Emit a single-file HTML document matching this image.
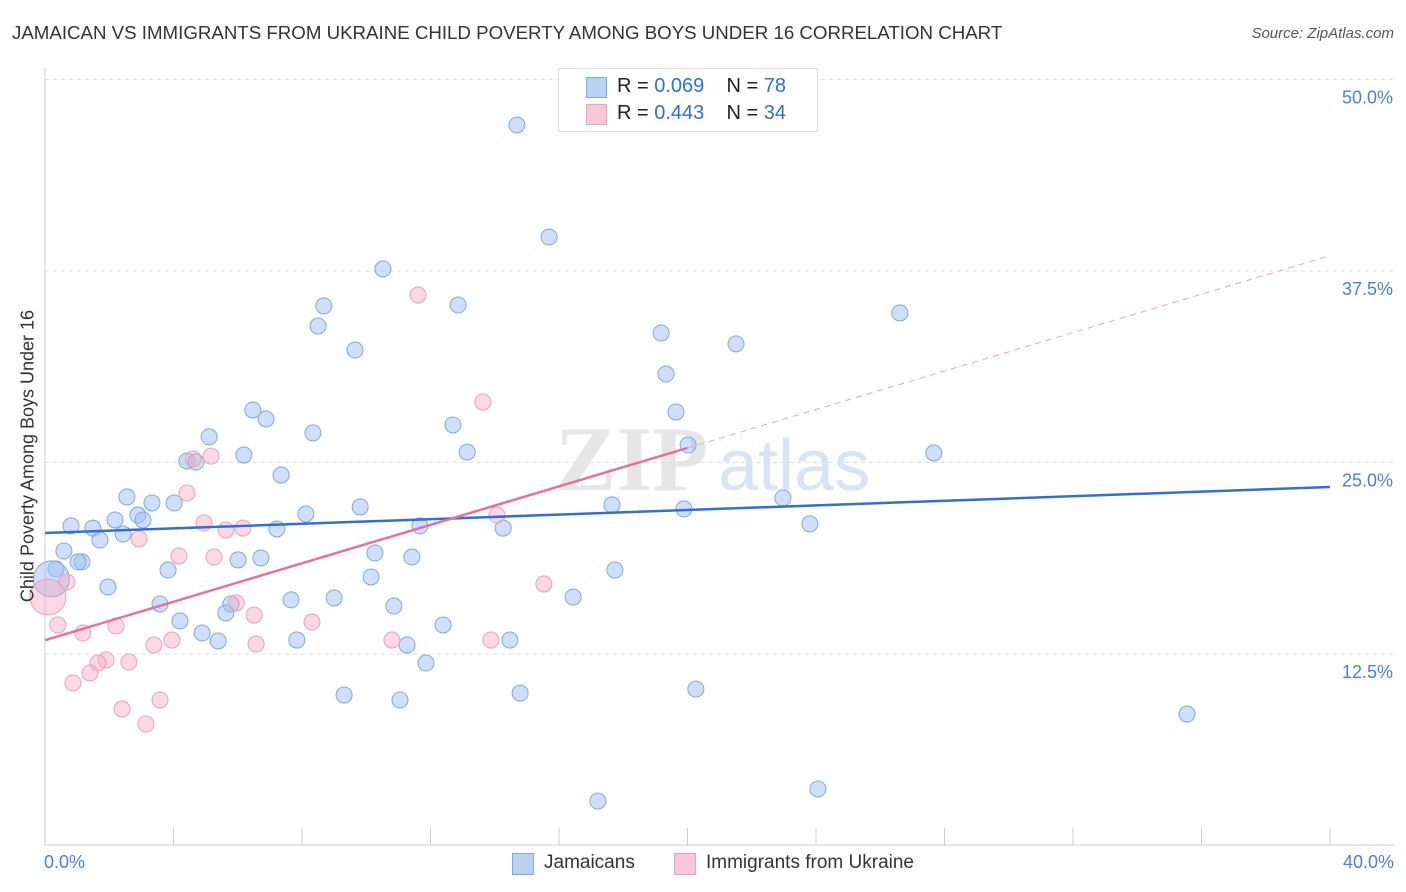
<!DOCTYPE html>
<html><head><meta charset="utf-8"><style>
body{margin:0;background:#fff;font-family:"Liberation Sans",sans-serif;}
#wrap{position:relative;width:1406px;height:892px;overflow:hidden;}
.t{position:absolute;white-space:nowrap;}
</style></head><body>
<div id="wrap">
<div class="t" style="left:12px;top:22px;font-size:18.7px;color:#333;">JAMAICAN VS IMMIGRANTS FROM UKRAINE CHILD POVERTY AMONG BOYS UNDER 16 CORRELATION CHART</div>
<div class="t" style="right:12px;top:25px;font-size:15px;color:#555;font-style:italic;">Source: ZipAtlas.com</div>
<svg id="svg" width="1406" height="892" style="position:absolute;left:0;top:0"></svg>
</div>
<script>
const xTicks=[0,4,8,12,16,20,24,28,32,36,40];
const yTicks=[12.5,25,37.5,50];
const yTickLabels=["12.5%","25.0%","37.5%","50.0%"];
const blueX=[14.69,15.69,10.52,8.68,12.86,8.50,9.65,19.18,26.61,21.51,19.33,6.47,6.88,19.64,12.70,8.34,5.11,20.02,13.14,6.19,27.67,4.42,4.70,7.35,2.55,3.33,4.02,22.97,17.65,9.81,19.89,8.12,2.89,3.05,2.18,0.81,1.49,11.67,14.26,23.81,7.22,2.43,1.71,0.59,10.27,1.15,6.01,6.72,11.42,0.34,3.83,17.74,10.15,1.96,16.44,7.66,9.00,3.58,10.86,5.79,5.63,4.20,12.39,4.89,5.39,7.84,14.47,11.27,11.86,9.31,11.05,14.79,20.26,35.55,17.21,24.06,0.2,1.03];
const blueY=[47.03,39.72,37.63,35.22,35.28,33.91,32.34,33.45,34.76,32.74,30.78,28.43,27.84,28.30,27.45,26.93,26.67,26.14,25.68,25.49,25.62,25.10,25.03,24.18,22.75,22.36,22.36,22.68,22.23,22.10,21.97,21.64,21.57,21.25,21.25,20.86,20.72,20.86,20.72,20.99,20.66,20.33,19.94,19.22,19.09,18.51,18.64,18.77,18.83,18.05,17.98,17.98,17.53,16.87,16.22,16.03,16.16,15.76,15.63,15.76,15.18,14.66,14.39,13.87,13.35,13.41,13.41,13.09,11.91,9.82,9.50,9.95,10.21,8.58,2.90,3.69,17.4,18.51];
const pinkX=[11.61,13.63,4.42,5.17,4.61,4.95,6.16,5.63,2.93,4.17,5.26,14.07,15.53,0.68,0.09,5.95,6.51,0.40,8.31,2.21,1.18,3.95,3.39,6.57,10.80,13.88,2.61,1.90,1.65,1.40,0.87,3.58,2.40,3.14];
const pinkY=[35.93,28.95,23.01,25.42,25.23,21.05,20.72,20.59,20.01,18.90,18.83,21.57,17.07,17.20,16.22,15.83,15.04,14.39,14.59,14.33,13.87,13.41,13.09,13.15,13.41,13.41,11.98,12.11,11.91,11.26,10.61,9.50,8.91,7.93];
const blueTrend=[20.4,23.4];
const pinkTrend=[13.4,38.5];
const pinkSolidEnd=20;
const X=v=>45+v*32.125, Y=v=>845.5-v*15.32;
const svg=document.getElementById('svg');const NS='http://www.w3.org/2000/svg';
function mk(tag,attrs,name){const e=document.createElementNS(NS,tag);for(const k in attrs)e.setAttribute(k,attrs[k]);


svg.appendChild(e);return e;}
let w=mk('text',{x:555,y:490,'font-size':92,fill:'#e6e6e6','font-family':'Liberation Serif, serif','font-weight':'bold'},'watermark-zip');w.textContent='ZIP';
w=mk('text',{x:718,y:490,'font-size':72,fill:'#d6e4f5','font-family':'Liberation Sans, sans-serif'},'watermark-atlas');w.textContent='atlas';
yTicks.forEach((v,i)=>{mk('line',{x1:45,x2:1395,y1:Y(v),y2:Y(v),stroke:'#ddd','stroke-dasharray':'4,4'},'gridline');
const t=mk('text',{x:1393,y:Y(v)+24,'text-anchor':'end','font-size':18,fill:'#4a7fd4'},'y-tick-label');t.textContent=yTickLabels[i];});
mk('line',{x1:45,x2:45,y1:68,y2:845,stroke:'#ccc'},'y-axis');
mk('line',{x1:45,x2:1395,y1:845,y2:845,stroke:'#ccc'},'x-axis');
xTicks.forEach(v=>{if(v>0)mk('line',{x1:X(v),x2:X(v),y1:828,y2:845,stroke:'#ccc'},'x-tick');});
blueX.forEach((x,i)=>{const big=i==76;mk('circle',{cx:X(x),cy:Y(blueY[i]),r:big?18:8,fill:'rgba(160,192,240,0.5)',stroke:'#7ea8e2','stroke-width':1},'jamaican-point');});
pinkX.forEach((x,i)=>{const big=i==14;mk('circle',{cx:X(x),cy:Y(pinkY[i]),r:big?18:8,fill:'rgba(244,168,196,0.45)',stroke:'#eba0bb','stroke-width':1},'ukraine-point');});
mk('line',{x1:X(0),y1:Y(blueTrend[0]),x2:X(40),y2:Y(blueTrend[1]),stroke:'#2f6fd6','stroke-width':2.5},'jamaican-trendline');
const pAt=v=>pinkTrend[0]+(pinkTrend[1]-pinkTrend[0])*v/40;
mk('line',{x1:X(0),y1:Y(pAt(0)),x2:X(pinkSolidEnd),y2:Y(pAt(pinkSolidEnd)),stroke:'#e8709a','stroke-width':2.5},'ukraine-trendline');
mk('line',{x1:X(pinkSolidEnd),y1:Y(pAt(pinkSolidEnd)),x2:X(40),y2:Y(pAt(40)),stroke:'#eaa0b8','stroke-width':1,'stroke-dasharray':'6,5'},'ukraine-trend-extension');
</script>
<div class="t" style="left:558px;top:68px;width:258px;height:62px;border:1px solid #ddd;background:#fff;font-size:20px;">
<div style="position:absolute;left:27px;top:8px;width:19px;height:19px;background:#b9d1f3;border:1px solid #7ea8e2"></div>
<div class="t" style="left:58px;top:6px;color:#222">R = <span style="color:#2f6fd6">0.069</span>&nbsp;&nbsp;&nbsp; N = <span style="color:#2f6fd6">78</span></div>
<div style="position:absolute;left:27px;top:35px;width:19px;height:19px;background:#f8c8d8;border:1px solid #eba0bb"></div>
<div class="t" style="left:58px;top:33px;color:#222">R = <span style="color:#2f6fd6">0.443</span>&nbsp;&nbsp;&nbsp; N = <span style="color:#2f6fd6">34</span></div>
</div>
<div class="t" style="left:44px;top:852px;font-size:18px;color:#4a7fd4">0.0%</div>
<div class="t" style="right:12px;top:852px;font-size:18px;color:#4a7fd4">40.0%</div>
<div class="t" style="left:512px;top:853px;width:20px;height:20px;background:#b9d1f3;border:1px solid #7ea8e2"></div>
<div class="t" style="left:544px;top:852px;font-size:19px;color:#333">Jamaicans</div>
<div class="t" style="left:674px;top:853px;width:20px;height:20px;background:#f8c8d8;border:1px solid #eba0bb"></div>
<div class="t" style="left:706px;top:852px;font-size:19px;color:#333">Immigrants from Ukraine</div>
<div class="t" style="left:28px;top:456px;font-size:18px;color:#333;transform:translate(-50%,-50%) rotate(-90deg);">Child Poverty Among Boys Under 16</div>
</body></html>
